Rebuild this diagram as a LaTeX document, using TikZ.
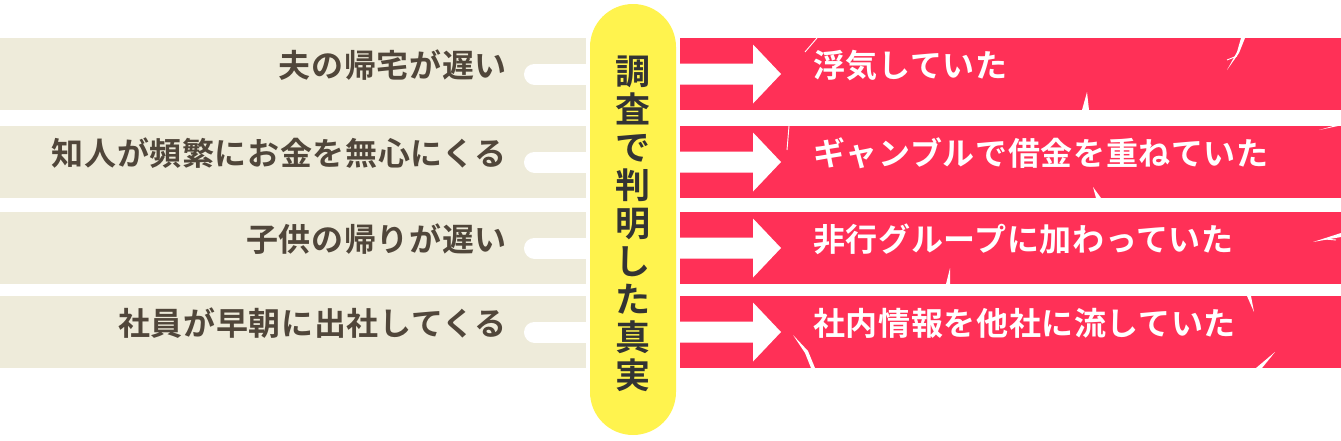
\documentclass[tikz,border=0pt]{standalone}
\usepackage{fontspec}
\newfontfamily\jpfont{Noto Sans CJK JP}[BoldFont={* Bold},LetterSpace=2]
\newfontfamily\jpvert{Noto Sans CJK JP}[BoldFont={* Bold}]
\definecolor{beige}{RGB}{238,235,218}
\definecolor{redbar}{RGB}{255,48,87}
\definecolor{pillyellow}{RGB}{255,243,78}
\definecolor{browntext}{RGB}{80,70,58}
\definecolor{darktext}{RGB}{51,51,51}
\tikzset{
  leftbar/.style={fill=beige, draw=none, minimum width=586pt, minimum height=72pt, inner sep=0pt, anchor=west},
  rightbar/.style={fill=redbar, draw=none, minimum width=661pt, minimum height=72pt, inner sep=0pt, anchor=west},
  lefttext/.style={font=\jpfont\bfseries\fontsize{32}{32}\selectfont, text=browntext, anchor=east, inner sep=0pt, text height=0.88em, text depth=0.12em},
  righttext/.style={font=\jpfont\bfseries\fontsize{32}{32}\selectfont, text=white, anchor=west, inner sep=0pt, text height=0.88em, text depth=0.12em},
  pillbox/.style={fill=pillyellow, draw=none, minimum width=86pt, minimum height=431pt, rounded corners=43pt, inner sep=0pt},
  connline/.style={white, line width=21pt, line cap=round},
  crack/.style={fill=white, draw=none},
  thincrack/.style={white, line width=0.9pt},
}
\begin{document}
\begin{tikzpicture}[x=1pt,y=-1pt]
\useasboundingbox (0,0) rectangle (1341,440);
% rows
\foreach \i/\y in {1/74,2/162,3/248,4/332}{
  \node[leftbar] (L\i) at (0,\y) {};
  \node[rightbar] (R\i) at (680,\y) {};
  \coordinate (cs\i) at (534.5,\y);
  \coordinate (ce\i) at (592,\y);
  \draw[connline] (cs\i) -- (ce\i);
  \fill[white] (680,\y-10.5) -- (753,\y-10.5) -- (753,\y-29.5) -- (781,\y) -- (753,\y+29.5) -- (753,\y+10.5) -- (680,\y+10.5) -- cycle;
}
% cracks
\draw[thincrack] (805,52) -- (817,38);
\draw[thincrack] (789,126) -- (788,138) -- (787,150);
\fill[crack] (1241,38) -- (1245,38) -- (1239,53) -- (1227,70) -- (1237,52) -- cycle;
\draw[thincrack] (1237,56) -- (1227,60);
\fill[crack] (1087,92) -- (1089,110) -- (1082,110) -- cycle;
\fill[crack] (1333,126) -- (1338,126) -- (1319,130) -- cycle;
\fill[crack] (1093,187) -- (1101,198) -- (1096,198) -- cycle;
\fill[crack] (1313,242) -- (1341,233) -- (1341,237) -- cycle;
\draw[thincrack] (1325,239) -- (1336,240);
\fill[crack] (950,268) -- (950,284) -- (946,284) -- cycle;
\fill[crack] (1247,296) -- (1251,296) -- (1254,312) -- cycle;
\fill[crack] (1275,352) -- (1262,368) -- (1256,368) -- cycle;
\fill[crack] (793,335) -- (808,351) -- (815,368) -- (811,368) -- (805,353) -- cycle;
% pill
\node[pillbox] (pill) at (633,219.5) {};
\node[font=\jpvert\bfseries\fontsize{35}{38}\selectfont, text=darktext, align=center, inner sep=0pt] (ptext) at (633,224) {調\\査\\で\\判\\明\\し\\た\\真\\実};
% left texts
\node[lefttext] (lt1) at (507,74) {夫の帰宅が遅い};
\node[lefttext] (lt2) at (507,162) {知人が頻繁にお金を無心にくる};
\node[lefttext] (lt3) at (507,248) {子供の帰りが遅い};
\node[lefttext] (lt4) at (507,332) {社員が早朝に出社してくる};
% right texts
\node[righttext] (rt1) at (813,74) {浮気していた};
\node[righttext] (rt2) at (813,162) {ギャンブルで借金を重ねていた};
\node[righttext] (rt3) at (813,248) {非行グループに加わっていた};
\node[righttext] (rt4) at (813,332) {社内情報を他社に流していた};
\end{tikzpicture}
\end{document}
